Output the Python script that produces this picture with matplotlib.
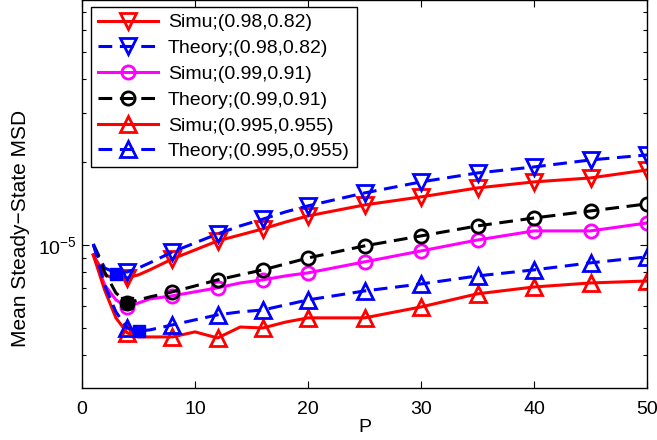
import matplotlib
matplotlib.use('Agg')
import matplotlib.pyplot as plt
from matplotlib.ticker import LogLocator, NullFormatter, FixedLocator

plt.rcParams['font.family'] = ['Liberation Sans', 'DejaVu Sans']

# step size P
P = [1, 2, 3, 4, 5, 6, 8, 10, 12, 14, 16, 18, 20, 25, 30, 35, 40, 45, 50]

# mean steady-state MSD (x 1e-5)
simu_098 = [0.920, 0.779, 0.753, 0.760, 0.779, 0.812, 0.890, 0.959, 1.034, 1.087,
            1.143, 1.210, 1.274, 1.396, 1.493, 1.609, 1.692, 1.749, 1.869]
theo_098 = [1.008, 0.825, 0.792, 0.798, 0.825, 0.861, 0.943, 1.017, 1.096, 1.172,
            1.240, 1.317, 1.385, 1.543, 1.692, 1.823, 1.917, 2.032, 2.119]
simu_099 = [0.920, 0.716, 0.632, 0.596, 0.616, 0.637, 0.654, 0.676, 0.699, 0.728,
            0.747, 0.772, 0.792, 0.868, 0.951, 1.042, 1.124, 1.124, 1.201]
theo_099 = [1.000, 0.798, 0.670, 0.616, 0.632, 0.648, 0.676, 0.710, 0.747, 0.779,
            0.812, 0.853, 0.897, 0.992, 1.078, 1.172, 1.252, 1.328, 1.408]
simu_0995 = [0.920, 0.687, 0.544, 0.480, 0.464, 0.464, 0.464, 0.484, 0.460, 0.504,
             0.500, 0.525, 0.544, 0.544, 0.596, 0.665, 0.704, 0.728, 0.740]
theo_0995 = [1.008, 0.716, 0.572, 0.500, 0.488, 0.492, 0.513, 0.535, 0.558, 0.572,
             0.581, 0.606, 0.632, 0.681, 0.722, 0.772, 0.812, 0.861, 0.905]

# optimal P from theory (filled squares)
opt_P = [3, 4, 5]
opt_msd = [0.785, 0.616, 0.488]
opt_col = ['b', 'k', 'b']

labels = ['Simu;(0.98,0.82)', 'Theory;(0.98,0.82)', 'Simu;(0.99,0.91)',
          'Theory;(0.99,0.91)', 'Simu;(0.995,0.955)', 'Theory;(0.995,0.955)']

mk = [3, 6, 8, 10, 12, 13, 14, 15, 16, 17, 18]  # markers at P=4,8,12,...

fig = plt.figure(figsize=(6.57, 4.4), dpi=100)
ax = fig.add_axes([82/657, 52/440, 565/657, 388/440])

series = [(simu_098, '#ff0000', '-', 'v'), (theo_098, '#0000ff', '--', 'v'),
          (simu_099, '#ff00ff', '-', 'o'), (theo_099, 'k', '--', 'o'),
          (simu_0995, '#ff0000', '-', '^'), (theo_0995, '#0000ff', '--', '^')]
for (y, c, ls, m), lab in zip(series, labels):
    ms = 9.5 if m == 'o' else 11.5
    ln, = ax.plot(P, [v * 1e-5 for v in y], color=c, ls=ls, lw=2.2, marker=m,
                  ms=ms, mfc='none', mew=2.0, markevery=mk, label=lab)
    if ls == '--':
        ln.set_dashes((4.5, 2.5))

for p, v, c in zip(opt_P, opt_msd, opt_col):
    ax.plot(p, v * 1e-5, 's', color=c, ms=9, zorder=5)

ax.set_yscale('log')
ax.set_xlim(0, 50)
ax.set_ylim(3.03e-6, 7.72e-5)
ax.xaxis.set_major_locator(FixedLocator([0, 10, 20, 30, 40, 50]))
ax.yaxis.set_major_locator(LogLocator(base=10))
ax.yaxis.set_minor_locator(LogLocator(base=10, subs=range(2, 10)))
ax.yaxis.set_minor_formatter(NullFormatter())
ax.tick_params(which='both', direction='in', top=True, right=True, labelsize=14, width=0.8)
ax.tick_params(which='major', length=5)
ax.tick_params(which='minor', length=3)
ax.tick_params(axis='x', pad=9)
for s in ax.spines.values():
    s.set_linewidth(1.0)

ax.set_xlabel('P', fontsize=14, labelpad=1)
ax.set_ylabel('Mean Steady\u2212State MSD', fontsize=15)
ax.yaxis.set_label_coords(-0.092, 0.41)

leg = ax.legend(loc='upper left', bbox_to_anchor=(0.016, 0.982), borderaxespad=0,
                fontsize=14, fancybox=False, framealpha=1, edgecolor='k',
                handlelength=3.1, labelspacing=0.42, borderpad=0.35, handletextpad=0.5)
leg.get_frame().set_linewidth(1.0)

fig.savefig('out.png', dpi=100)
